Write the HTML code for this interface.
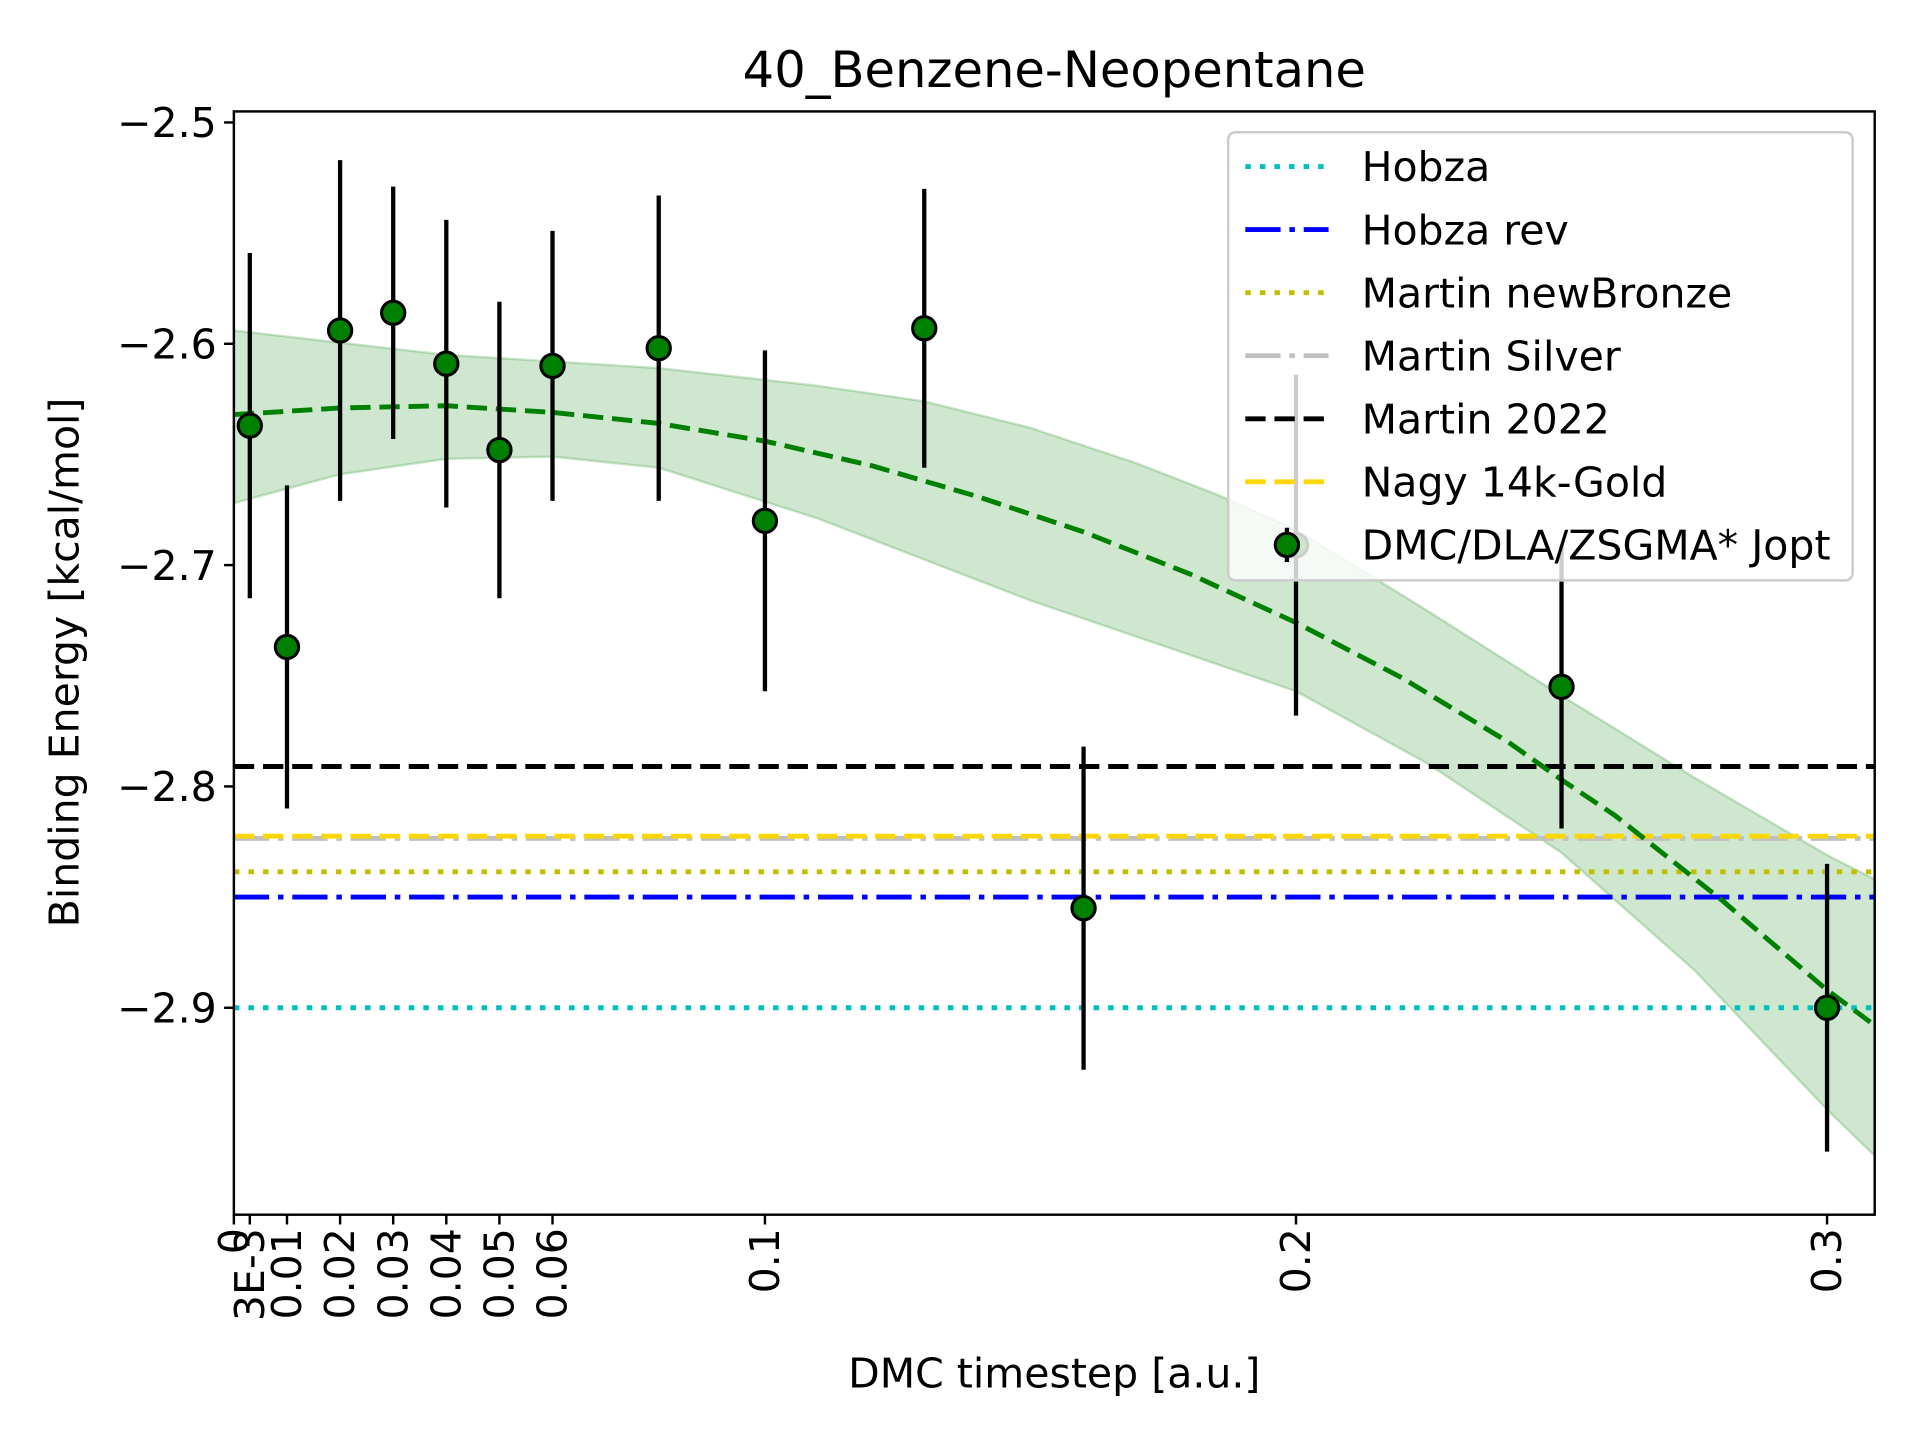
<!DOCTYPE html>
<html><head><meta charset="utf-8"><style>
html,body{margin:0;padding:0;background:#fff;}
svg{display:block;font-family:"DejaVu Sans","Liberation Sans",sans-serif;}
</style></head><body>
<svg id="chart" width="1920" height="1440" viewBox="0 0 1568 1176" preserveAspectRatio="none" xmlns="http://www.w3.org/2000/svg">
<rect width="1568" height="1176" fill="#fff"/>
<text x="861" y="71" font-size="40.5" text-anchor="middle">40_Benzene-Neopentane</text>
<text transform="translate(64,541) rotate(-90)" font-size="33.5" text-anchor="middle">Binding Energy [kcal/mol]</text>
<text x="861" y="1133" font-size="33.5" text-anchor="middle">DMC timestep [a.u.]</text>
<g id="plot"></g>
</svg>
<script>
const xTicks=[0,0.003,0.01,0.02,0.03,0.04,0.05,0.06,0.1,0.2,0.3];
const xTickLabels=["0","3E-3","0.01","0.02","0.03","0.04","0.05","0.06","0.1","0.2","0.3"];
const yTicks=[-2.5,-2.6,-2.7,-2.8,-2.9];
const yTickLabels=["\u22122.5","\u22122.6","\u22122.7","\u22122.8","\u22122.9"];
const ptX=[0.003,0.01,0.02,0.03,0.04,0.05,0.06,0.08,0.1,0.13,0.16,0.2,0.25,0.3];
const ptY=[-2.637,-2.737,-2.594,-2.586,-2.609,-2.648,-2.610,-2.602,-2.680,-2.593,-2.855,-2.691,-2.755,-2.900];
const ptErr=[0.078,0.073,0.077,0.057,0.065,0.067,0.061,0.069,0.077,0.063,0.073,0.077,0.064,0.065];
const fitX=[0,0.02,0.04,0.06,0.08,0.1,0.12,0.14,0.16,0.18,0.2,0.22,0.24,0.25,0.26,0.28,0.3,0.309];
const fitY=[-2.632,-2.629,-2.628,-2.631,-2.636,-2.644,-2.655,-2.669,-2.685,-2.704,-2.726,-2.751,-2.780,-2.797,-2.813,-2.851,-2.892,-2.908];
const upX=[0,0.04,0.08,0.11,0.13,0.15,0.17,0.185,0.2,0.225,0.25,0.275,0.3,0.309];
const upY=[-2.594,-2.605,-2.611,-2.619,-2.626,-2.638,-2.654,-2.668,-2.684,-2.721,-2.759,-2.796,-2.831,-2.842];
const loX=[0,0.02,0.04,0.06,0.08,0.11,0.15,0.2,0.225,0.25,0.275,0.3,0.309];
const loY=[-2.672,-2.659,-2.652,-2.651,-2.656,-2.679,-2.716,-2.757,-2.790,-2.830,-2.883,-2.946,-2.967];
const refNames=["Hobza","Hobza rev","Martin newBronze","Martin Silver","Martin 2022","Nagy 14k-Gold"];
const refVals=[-2.900,-2.850,-2.8386,-2.8235,-2.791,-2.8225];
const refColors=["#00bfbf","#0000ff","#bfbf00","#c0c0c0","#000000","#ffd700"];
const refDash=["4.5,7.4","28.8,7.2,4.5,7.2","4.5,7.4","28.8,7.2,4.5,7.2","16.6,7.2","16.6,7.2"];
const refOrder=[3,2,0,1,5,4];

const L=191,R=1531,T=91,B=992;
const X=v=>191+v*4337;
const Y=v=>100+(-2.5-v)*1807.5;
const NS="http://www.w3.org/2000/svg";
const g=document.getElementById('plot');
function mk(tag,attrs,parent){const e=document.createElementNS(NS,tag);for(const k in attrs)e.setAttribute(k,attrs[k]);(parent||g).appendChild(e);return e;}
const defs=mk('defs',{});
const cp=mk('clipPath',{id:'clip'},defs);mk('rect',{x:L,y:T,width:R-L,height:B-T},cp);
const clipG=mk('g',{'clip-path':'url(#clip)'});
let d='';upX.forEach((x,i)=>{d+=(i?'L':'M')+X(x)+','+Y(upY[i]);});
for(let i=loX.length-1;i>=0;i--)d+='L'+X(loX[i])+','+Y(loY[i]);d+='Z';
const band=mk('path',{d:d,fill:'#008000','fill-opacity':0.19,stroke:'#008000','stroke-opacity':0.2,'stroke-width':2,'stroke-linejoin':'round'},clipG);


refOrder.forEach(i=>{
  const ln=mk('line',{x1:L,x2:R,y1:Y(refVals[i]),y2:Y(refVals[i]),stroke:refColors[i],'stroke-width':4,'stroke-dasharray':refDash[i]},clipG);
  
  
});
let fd='';fitX.forEach((x,i)=>{fd+=(i?'L':'M')+X(x)+','+Y(fitY[i]);});
const fit=mk('path',{d:fd,fill:'none',stroke:'#008000','stroke-width':4,'stroke-dasharray':'16.6,7.2','stroke-linejoin':'round'},clipG);


ptX.forEach((x,i)=>{
  const eb=mk('line',{x1:X(x),x2:X(x),y1:Y(ptY[i]+ptErr[i]),y2:Y(ptY[i]-ptErr[i]),stroke:'#000','stroke-width':3.5},clipG);
  
  
  const c=mk('circle',{cx:X(x),cy:Y(ptY[i]),r:9.5,fill:'#008000',stroke:'#000','stroke-width':2.5},clipG);
  
  
});
const fr=mk('rect',{x:L,y:T,width:R-L,height:B-T,fill:'none',stroke:'#000','stroke-width':2});


xTicks.forEach((v,i)=>{
  mk('line',{x1:X(v),x2:X(v),y1:B,y2:B+8,stroke:'#000','stroke-width':2});
  const t=mk('text',{transform:`translate(${X(v)+11.5},1003) rotate(-90)`,'font-size':33.5,'text-anchor':'end'});
  t.textContent=xTickLabels[i];
  
  
});
yTicks.forEach((v,i)=>{
  mk('line',{x1:L-8,x2:L,y1:Y(v),y2:Y(v),stroke:'#000','stroke-width':2});
  const t=mk('text',{x:L-14,y:Y(v)+12,'font-size':33.5,'text-anchor':'end'});
  t.textContent=yTickLabels[i];
  
  
});
const lg=mk('g',{});


mk('rect',{x:1003,y:108,width:510,height:366,rx:6,fill:'#fff','fill-opacity':0.8,stroke:'#cccccc','stroke-width':2},lg);
refNames.forEach((n,i)=>{
  const yy=136+i*51.5;
  mk('line',{x1:1017,x2:1085,y1:yy,y2:yy,stroke:refColors[i],'stroke-width':4,'stroke-dasharray':refDash[i]},lg);
  const t=mk('text',{x:1112,y:yy+12,'font-size':33.5},lg);
  t.textContent=n;
  
  
});
const ly=136+6*51.5;
mk('line',{x1:1051,x2:1051,y1:ly-14,y2:ly+14,stroke:'#000','stroke-width':3.5},lg);
mk('circle',{cx:1051,cy:ly,r:9.5,fill:'#008000',stroke:'#000','stroke-width':2.5},lg);
const lt=mk('text',{x:1112,y:ly+12,'font-size':33.5},lg);
lt.textContent='DMC/DLA/ZSGMA* Jopt';


</script>
</body></html>
